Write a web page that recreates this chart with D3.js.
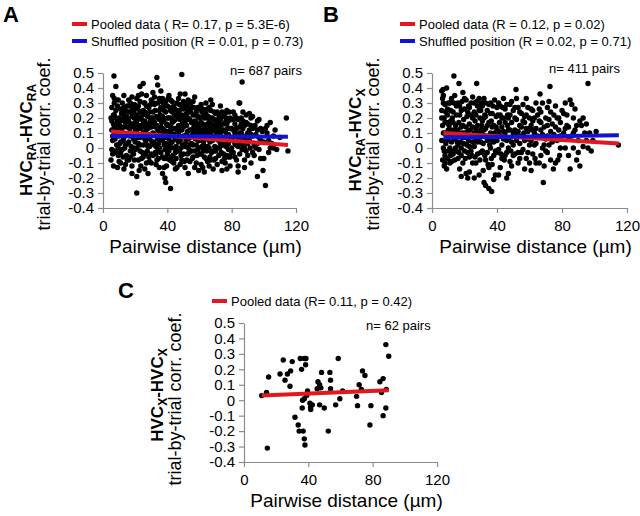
<!DOCTYPE html>
<html><head><meta charset="utf-8">
<script src="https://cdn.jsdelivr.net/npm/d3@7"></script>
<style>body{margin:0;background:#fff}svg text{font-family:"Liberation Sans",Arial,sans-serif}</style>
</head><body><svg id="chart" width="640" height="516"></svg>
<script>
// ---------- data ----------
const xTicks = [0, 40, 80, 120];
const yTicks = [0.5, 0.4, 0.3, 0.2, 0.1, 0, -0.1, -0.2, -0.3, -0.4];
const yTickLabels = ["0.5","0.4","0.3","0.2","0.1","0","-0.1","-0.2","-0.3","-0.4"];

const legendA = ["Pooled data ( R= 0.17, p = 5.3E-6)", "Shuffled position (R = 0.01, p = 0.73)"];
const legendB = ["Pooled data (R = 0.12, p = 0.02)", "Shuffled position (R = 0.02, p = 0.71)"];
const legendC = ["Pooled data (R= 0.11, p = 0.42)"];
const countLabels = ["n= 687 pairs", "n= 411 pairs", "n= 62 pairs"];

const pooledA = [[5, 0.11], [115, 0.02]];
const shuffledA = [[5, 0.08], [115, 0.075]];
const pooledB = [[7, 0.10], [115, 0.03]];
const shuffledB = [[7, 0.07], [115, 0.085]];
const pooledC = [[11, 0.03], [90, 0.065]];

const pointsA = [
[5,0.2],[6,0.35],[6.8,0.48],[7,0.3],[8,0.41],[5.5,0.12],[6,0.05],[7,-0.02],[5,-0.08],[6.5,-0.12],[8,0.25],[9,0.18],[7.5,0.1],[8.5,0.02],[9.5,-0.05],[9,-0.13],[5.5,0.27],[7,0.22],[8,0.15],[6,0.08],[9.5,0.32],[10,0.2],[10,0.08],[10,-0.09],[6.5,0.16],[8,-0.03],[9,0.28],[7,0.33],[5.5,-0.01],[9.8,0.12],
[11,0.26],[12,0.3],[13,0.22],[14,0.17],[11.5,0.12],[12.5,0.05],[13.5,0.0],[14.5,-0.05],[11,-0.1],[13,-0.14],[12,0.19],[14,0.09],[11,0.04],[15,0.28],[15,0.14],[12.5,-0.06],[14,-0.11],[13,0.35],[11.5,0.23],[15,0.03],[12,0.1],[14.5,0.21],[13,0.27],[11,-0.03],
[16,0.32],[17,0.24],[18,0.16],[16.5,0.08],[17.5,0.01],[19,-0.04],[16,-0.08],[18,-0.12],[19.5,0.2],[20,0.11],[17,0.3],[18.5,0.26],[16,0.18],[19,0.06],[20,-0.01],[17,-0.06],[18,0.34],[19.5,0.29],[16.5,0.13],[20,0.22],[18,-0.17],[21,-0.3],[21,-0.19],[17,0.1],[19,0.14],
[21,0.33],[22,0.28],[23,0.41],[22.5,0.2],[24,0.15],[21.5,0.07],[23,0.02],[24.5,-0.03],[22,-0.08],[23.5,-0.12],[25,0.43],[25,0.25],[21,0.18],[24,0.08],[22.5,-0.15],[25,-0.06],[21,0.12],[23,0.31],[24.5,0.22],[22,0.03],[25,0.1],[23,-0.02],[24,0.36],[21.5,0.26],
[26,0.3],[27,0.22],[28,0.13],[26.5,0.05],[27.5,-0.02],[29,-0.09],[26,-0.14],[28.5,0.27],[29.5,0.18],[30,0.08],[27,0.35],[26,0.18],[28,0.01],[30,-0.04],[29,0.24],[27,-0.1],[26.5,0.11],[30,0.32],[28,-0.17],[29,0.06],[27.5,0.16],[30,0.14],[26,0.24],
[31,0.37],[32,0.29],[33,0.21],[34,0.12],[31.5,0.04],[32.5,-0.03],[33.5,-0.08],[35,-0.13],[33.5,0.47],[34,0.42],[31,0.16],[35,0.25],[32,0.09],[34.5,0.03],[31,-0.05],[33,-0.11],[35,0.19],[32,0.34],[34,0.3],[31,0.24],[35,0.06],[32.5,0.14],[33,0.01],[34,-0.02],[35,0.33],
[36,0.38],[37,0.33],[38,0.25],[36.5,0.17],[37.5,0.09],[39,0.03],[36,-0.03],[38,-0.07],[39.5,-0.12],[37,-0.17],[38.5,-0.2],[39,-0.23],[38,0.12],[40,0.2],[40,0.07],[36,0.27],[39,0.31],[37,0.21],[40,-0.04],[36.5,0.1],[38,0.02],[39.5,0.16],[37,0.05],[40,0.28],[38,-0.13],
[41,0.35],[42,0.25],[43,0.17],[44,0.08],[41.5,0.0],[42.5,-0.06],[44,-0.1],[42,-0.27],[41,0.2],[43,0.31],[44.5,0.22],[45,0.13],[41,0.11],[43,0.04],[45,-0.03],[42,0.14],[44,0.28],[45,-0.14],[41,-0.02],[43.5,-0.05],[42,0.32],[44,0.18],[45,0.06],[41.5,0.27],
[46,0.3],[47,0.22],[48,0.14],[46.5,0.05],[47.5,-0.02],[49,-0.08],[46,-0.13],[49,0.49],[48,0.36],[50,0.26],[49.5,0.17],[50,0.08],[47,0.1],[48.5,0.0],[46,0.2],[50,-0.04],[47,0.33],[49,0.28],[48,-0.11],[46,0.12],[50,0.2],[47.5,0.25],[45.5,0.01],
[51,0.36],[52,0.28],[53,0.2],[54,0.12],[51.5,0.04],[52.5,-0.04],[54,-0.09],[51,-0.13],[53,-0.17],[55,0.27],[55,0.17],[52,0.09],[54,0.02],[51,0.22],[53,0.32],[55,-0.02],[52,0.15],[54.5,0.24],[51,0.07],[53,0.0],[55,0.08],[52.5,0.19],
[56,0.31],[57,0.34],[58,0.24],[56.5,0.14],[57.5,0.06],[59,-0.01],[56,-0.06],[58,-0.1],[59.5,-0.15],[60,0.2],[60,0.1],[57,0.18],[59,0.27],[56,0.22],[58,0.02],[60,-0.04],[57,-0.13],[58.5,0.12],[56,0.09],[59.5,0.05],
[61,0.29],[62,0.21],[63,0.13],[61.5,0.05],[62.5,-0.02],[64,-0.07],[61,-0.11],[63,-0.16],[65,0.26],[65,0.16],[64,0.3],[62,0.08],[61,0.17],[63.5,0.01],[65,0.06],[62,-0.13],[64.5,0.2],[61.5,0.24],[63,0.1],[65,-0.09],
[66,0.27],[67,0.2],[68,0.12],[66.5,0.04],[67.5,-0.03],[69,-0.08],[66,-0.12],[70,0.23],[70,0.15],[68,0.29],[69,0.06],[67,0.09],[66,0.17],[70,-0.02],[68.5,-0.14],[67,0.32],[69,0.19],[70,0.08],[66.5,-0.06],
[71,0.24],[72,0.17],[73,0.1],[74,0.02],[72,-0.05],[71,-0.11],[74,-0.15],[75,0.21],[73,0.28],[75,0.12],[71,0.06],[74,0.07],[72.5,0.0],[75,-0.04],[73,0.15],[71.5,0.19],[74,-0.09],
[76,0.23],[77,0.16],[78,0.09],[76.5,0.01],[78,-0.06],[79,-0.12],[80,0.19],[80,0.06],[77,0.25],[79,0.13],[76,-0.1],[78,0.03],[80,-0.03],[77,-0.14],[79,0.2],[76,0.11],
[81,0.24],[82,0.16],[83,0.09],[84,0.01],[82,-0.06],[84,-0.12],[85,0.3],[84.6,0.3],[86.5,0.44],[81,0.12],[83,0.2],[85,0.05],[82,0.03],[84,-0.16],[81,-0.03],[83,-0.08],[85,0.14],
[86,0.2],[87,0.13],[88,0.06],[86.5,-0.01],[88,-0.08],[89,0.17],[87,0.24],[90,0.1],[89,-0.02],[86,0.1],[90,0.03],[88,-0.13],[87,0.02],
[91,0.23],[92,0.15],[93,0.08],[91.5,0.0],[94,-0.05],[94.5,0.15],[93,0.21],[92,-0.1],[95,0.09],[91,0.12],[94,0.02],
[96,0.12],[97,0.19],[98,0.05],[96,-0.19],[99.5,-0.15],[99,0.11],[97,-0.01],[98,-0.07],[96,0.03],
[100,-0.07],[101,-0.25],[102,0.1],[104,0.17],[104,0.0],[106,0.08],[108,-0.01],[110,0.07],[114,0.2],[115,-0.02],[103,0.05],[107,0.12],[101,0.13],[105,0.03],
[5.5,0.18],[6.5,0.22],[7.5,0.06],[8.5,0.12],[9.5,0.0],[6,-0.04],[7,0.14],[8,0.2],[9,0.09],[10.5,0.15],[10.5,0.03],[11,0.18],[12,0.24],[12,-0.01],[13,0.07],[13,0.14],[14,0.02],[14,0.25],[15,0.2],[15,-0.08],
[16,0.24],[16,0.04],[16.5,0.28],[17,0.15],[17,-0.02],[18,0.08],[18,0.21],[19,0.0],[19,0.24],[19.5,-0.08],[20,0.17],[20,0.04],[20.5,0.28],[21,0.0],[21,0.22],[22,0.15],[22,0.09],[22,0.35],[23,0.07],[23,0.24],
[23.5,0.13],[24,0.19],[24,-0.07],[25,0.16],[25,0.02],[25.5,0.3],[26,0.06],[26,0.14],[26.5,-0.04],[27,0.28],[27,0.09],[27.5,0.02],[28,0.21],[28,0.09],[28.5,-0.06],[29,0.15],[29,0.01],[29.5,0.29],[30,0.2],[30,-0.1],
[30.5,0.04],[31,0.1],[31,0.2],[31.5,0.3],[32,0.02],[32,0.17],[32.5,0.25],[33,0.08],[33,-0.04],[33.5,0.15],[34,0.2],[34,0.06],[34.5,-0.07],[35,0.1],[35,0.0],[35.5,0.22],[36,0.14],[36,0.05],[36.5,0.31],[37,0.13],
[37,-0.06],[37.5,0.28],[38,0.19],[38,0.07],[38.5,-0.01],[39,0.11],[39,0.24],[39.5,-0.07],[40,0.15],[40,0.01],[40.5,0.33],[41,0.06],[41,0.15],[41.5,-0.08],[42,0.2],[42,0.03],[42.5,0.1],[43,0.24],[43,-0.09],[43.5,0.13],
[44,0.0],[44,0.13],[44.5,0.26],[45,0.19],[45,0.09],[45.5,-0.07],[46,0.25],[46,0.07],[46.5,-0.02],[47,0.15],[47,0.04],[47.5,0.29],[48,0.19],[48,0.05],[48.5,-0.05],[49,0.12],[49,0.22],[49.5,0.02],[50,0.14],[50,0.31],
[50.5,-0.09],[51,0.17],[51,0.01],[51.5,0.29],[52,0.23],[52,-0.08],[52.5,0.11],[53,0.06],[53,0.25],[53.5,-0.03],[54,0.19],[54,0.07],[54.5,0.3],[55,0.12],[55,0.03],[55.5,-0.07],[56,0.17],[56,0.02],[56.5,0.27],[57,0.11],
[57,-0.02],[57.5,0.22],[58,0.08],[58,0.17],[58.5,-0.05],[59,0.14],[59,0.21],[59.5,0.0],[60,0.15],[60,0.05],[60.5,0.26],[61,0.12],[61,-0.04],[61.5,0.01],[62,0.16],[62,0.26],[62.5,0.04],[63,0.2],[63,-0.06],[63.5,0.08],
[64,0.14],[64,0.23],[64.5,-0.02],[65,0.11],[65,0.01],[65.5,0.21],[66,0.08],[66,0.0],[66.5,0.13],[67,0.25],[67,-0.08],[67.5,0.16],[68,0.05],[68,0.2],[68.5,-0.02],[69,0.13],[69,0.24],[69.5,0.01],[70,0.11],[70,-0.07],
[70.5,0.18],[71,0.14],[71,0.0],[71.5,0.09],[72,0.22],[72,0.05],[72.5,0.12],[73,0.03],[73,0.19],[73.5,-0.03],[74,0.12],[74,0.24],[74.5,0.05],[75,0.16],[75,0.02],[75.5,-0.07],[76,0.17],[76,0.05],[76.5,0.2],[77,0.09],
[77,-0.05],[77.5,0.13],[78,0.18],[78,-0.01],[78.5,0.24],[79,0.06],[79,-0.06],[80,0.13],[80,0.0],[81,0.19],[81,0.05],[82,0.1],[82,0.22],[83,0.02],[83,0.13],[84,0.19],[84,0.06],[85,0.1],[85,-0.04],[86,0.16],
[86,0.03],[87,0.08],[87,0.18],[88,0.15],[88,0.0],[89,0.08],[89,0.22],[90,0.16],[90,-0.05],[91,0.05],[92,0.09],[92,0.2],[93,0.13],[93,-0.03],[95,0.0],[96,0.18],[97,0.07],[98,0.13],[100,0.04],[102,0.15],[103,-0.03],[106,0.0]
];

const pointsB = [
[6,0.38],[6.8,0.39],[9,0.40],[7,0.3],[8,0.29],[6,0.25],[7.5,0.2],[6.5,0.15],[8,0.1],[6,0.05],[7,0.0],[8,-0.05],[6.5,-0.08],[7.5,-0.12],[9,-0.14],[9.5,0.22],[10,0.12],[8.5,0.03],[9,0.17],[10,-0.02],[6,0.2],[7,0.35],[8,-0.1],[10,0.07],[9.5,0.26],
[11,0.3],[12,0.33],[13.5,0.48],[13,0.24],[11.5,0.18],[12,0.12],[14,0.06],[11,0.0],[13,-0.04],[12,-0.09],[14.5,0.15],[15,0.28],[15,-0.02],[11,0.08],[13,0.1],[14,-0.08],[12.5,0.2],[15,0.09],[11.5,-0.05],[14,0.35],
[16.6,0.43],[19,0.37],[16,0.3],[17,0.22],[18,0.14],[19,0.07],[16,0.02],[18,-0.05],[17,-0.14],[18,-0.19],[20,0.26],[20,0.1],[19,-0.1],[16.5,0.17],[18.5,0.31],[20,-0.02],[17,0.08],[19.5,0.19],[16,-0.07],[18,0.0],
[21,-0.17],[22,-0.2],[23,-0.16],[21,0.32],[22,0.24],[23,0.16],[24,0.08],[21.5,0.02],[23,-0.06],[25,-0.1],[24,0.3],[25,0.2],[22,0.11],[25,0.04],[21,0.14],[24,-0.02],[23,0.27],[22.5,0.05],[25,0.34],
[27.5,0.43],[26,0.3],[27,0.22],[28,0.15],[29,0.07],[26,0.01],[28,-0.04],[27,-0.1],[29,-0.18],[30,0.25],[30,0.12],[26.5,0.18],[29,0.33],[28,0.28],[30,-0.03],[26,-0.2],[27,0.05],[29.5,0.2],[26,0.1],
[32,-0.23],[33,-0.25],[35,-0.27],[31,0.28],[32,0.2],[33,0.13],[34,0.05],[31,-0.02],[33,-0.08],[35,-0.13],[34,0.25],[35,0.17],[31,0.09],[32,0.33],[35,0.06],[33,0.3],[31.5,-0.15],[34,-0.03],[32.5,0.22],[30.5,0.15],
[36.7,-0.29],[36,0.3],[37,0.23],[38,0.15],[39,0.08],[36,0.0],[38,-0.05],[37,-0.11],[39,-0.18],[40,0.27],[40,0.12],[38.5,0.32],[36.5,0.18],[40,-0.03],[37,0.05],[39.5,0.21],[38,-0.21],[36,0.1],
[41,0.3],[42,0.22],[43,0.14],[44,0.06],[41,-0.01],[43,-0.07],[42,-0.13],[45,0.26],[45,0.1],[44,0.33],[41.5,0.17],[43,0.02],[45,-0.05],[42,0.08],[44,0.2],[41,-0.18],[43.5,0.27],
[46,0.29],[47,0.2],[48,0.12],[49,0.04],[46,-0.03],[48,-0.09],[46,-0.2],[47,-0.17],[50,0.25],[50,0.1],[49,0.31],[47.5,0.07],[46.5,0.15],[50,-0.05],[48,0.22],[49,-0.12],[47,0.0],
[51.7,0.39],[51,0.27],[52,0.19],[53,0.11],[54,0.03],[51,-0.04],[53,-0.1],[55,0.23],[55,0.08],[52,0.33],[54,0.15],[52,0.05],[55,-0.03],[53,0.27],[51,0.12],[54,-0.07],
[56,0.29],[57,0.21],[58,0.13],[59,0.06],[56,-0.01],[57,-0.14],[58,-0.07],[60,0.2],[60,0.02],[59,0.27],[56.5,0.1],[58,0.33],[60,-0.1],[57,0.17],[59,-0.03],
[61,-0.15],[61,0.26],[62,0.18],[63,0.1],[64,0.03],[62,-0.04],[63.4,-0.07],[65,0.22],[64,0.3],[65,0.08],[62,0.12],[61,0.05],[64,-0.1],[63,0.2],
[66.5,0.36],[68.5,-0.23],[66,0.26],[67,0.17],[68,0.09],[69,0.02],[67,-0.05],[66,-0.1],[70,0.2],[70,0.06],[68,0.3],[69,-0.12],[67,0.12],[70,-0.02],
[72.6,0.41],[71,0.27],[72,0.19],[73,0.11],[74,0.04],[71,-0.03],[74.7,-0.14],[73,-0.08],[75,0.22],[75,0.09],[72,0.31],[74,0.16],[71,0.08],
[76,0.28],[77,0.2],[78,0.12],[78.5,-0.05],[77,0.05],[79,0.17],[80,0.25],[80,0.08],[76,-0.1],[79,0.0],[77.5,-0.08],
[81,0.23],[82,0.3],[83,0.15],[84,0.07],[85,0.32],[85,-0.14],[82,0.0],[84,-0.05],[83,0.22],[81,0.1],
[86,0.29],[87,0.2],[88,0.12],[89,-0.08],[91,0.18],[91,-0.12],[90,0.05],[88,0.26],[92,0.15],[87,0.0],[90,-0.03],[86,0.08],
[93,0.01],[94,0.1],[96,0.43],[97,0.1],[95,0.16],[99,0.05],[101,0.11],[114.7,0.02],[98,-0.02],[96,0.0],
[6.5,0.33],[7,0.1],[7.5,-0.02],[8,0.17],[8.5,0.24],[9,0.05],[9.5,-0.07],[10,0.3],[10.5,0.15],[11,-0.1],[11.5,0.25],[12,0.04],[12.5,-0.02],[13,0.17],[13.5,0.3],[14,0.12],[14.5,0.0],[15,0.22],[15.5,0.04],[16,0.12],
[16.5,-0.03],[17,0.28],[17.5,0.04],[18,0.25],[18.5,0.1],[19,0.15],[19.5,0.03],[20,0.33],[20.5,-0.07],[21,0.07],[21.5,0.21],[22,-0.03],[22.5,0.28],[23,0.01],[23.5,0.12],[24,0.22],[24.5,-0.05],[25,0.14],[25.5,0.08],[26,0.24],
[26.5,-0.06],[27,0.13],[27.5,0.31],[28,0.04],[28.5,0.1],[29,0.25],[29.5,-0.08],[30,0.04],[30.5,0.3],[31,0.18],[31.5,0.03],[32,0.12],[32.5,-0.05],[33,0.21],[33.5,0.08],[34,0.15],[34.5,-0.11],[35,0.29],[35.5,0.02],[36,0.23],
[36.5,-0.07],[37,0.14],[37.5,0.28],[38,0.04],[38.5,0.1],[39,-0.02],[39.5,0.14],[40,0.05],[40.5,0.22],[41,0.11],[42,0.28],[42.5,-0.04],[43,0.2],[44,0.11],[44.5,-0.08],[45,0.17],[46,0.05],[46.5,0.22],[47,0.12],[48,0.29],
[48.5,-0.02],[49,0.17],[50,0.02],[51,0.2],[52,0.1],[53,-0.03],[54,0.24],[55,0.14],[56,0.18],[57,0.05],[58,0.22],[59,0.11],[60,0.13],[61,0.15],[62,0.25],[63,0.02],[64,0.13],[66,0.18],[67,0.24],[68,0.0],
[69,0.14],[71,0.15],[72,0.02],[73,0.24],[76,0.14],[78,0.2],[79,0.08],[82,0.13],[84,0.14],[87,0.1],[89,0.15],[93,0.2],[95,0.05]
];

const pointsC = [
[11,0.03],[14,0.05],[14.5,-0.31],[15.3,0.15],[22.4,0.17],[24.4,0.26],[25.5,0.13],[27,0.17],[29,0.19],[28.6,0.09],
[30,0.25],[35,0.27],[37.5,0.27],[35.8,0.2],[38.3,0.23],[31.7,-0.11],[33.7,-0.16],[34.3,-0.2],[36.8,-0.2],[37.5,-0.25],
[37.9,-0.29],[36.2,-0.05],[36.4,0.0],[37.5,0.01],[39,0.03],[39.5,0.06],[41,-0.02],[41.4,-0.045],[41.5,-0.06],[42.5,-0.03],
[45.5,0.075],[46,0.12],[47,0.10],[48.2,0.18],[47.8,0.08],[47,-0.03],[49.9,-0.05],[52.4,-0.2],[53.4,0.18],[53.8,0.13],
[53.8,0.075],[57,-0.03],[58.6,0.27],[59.6,0.01],[61.3,0.06],[70,0.025],[70.6,-0.035],[71.6,0.10],[73,0.07],[73.7,0.19],
[75.2,0.16],[78.9,-0.035],[78.3,-0.16],[84.5,0.12],[86.5,0.14],[85.5,0.05],[86.5,-0.10],[88.2,-0.05],[88.2,0.36],[90,0.285],
[88.5,0.07],[38.5,0.27]
];

// ---------- drawing ----------
const svg = d3.select("#chart");
const AXIS = "#8c8c8c", RED = "#e3171e", BLUE = "#1212d6";
const FONT = '"Liberation Sans",Arial,sans-serif';

function panel(o) {
  const x = d3.scaleLinear().domain([0, 120]).range([o.x0, o.x1]);
  const y = d3.scaleLinear().domain([-0.4, 0.5]).range([o.y0, o.y1]);
  const g = svg.append("g");

  const ya = g.append("g").attr("transform", `translate(${o.x0},0)`)
    .call(d3.axisLeft(y).tickValues(yTicks).tickSize(5).tickSizeOuter(0).tickPadding(4)
      .tickFormat((d, i) => yTickLabels[i]));
  const xa = g.append("g").attr("transform", `translate(0,${o.y0})`)
    .call(d3.axisBottom(x).tickValues(xTicks).tickSize(5).tickSizeOuter(0).tickPadding(7));
  [ya, xa].forEach(a => {
    a.selectAll("path,line").attr("stroke", AXIS).attr("stroke-width", 1.2);
    a.selectAll("text").attr("fill", "#000").style("font-size", "15px").style("font-family", FONT);
  });

  g.append("g").selectAll("circle").data(o.points).join("circle")
    .attr("cx", d => x(d[0])).attr("cy", d => y(d[1])).attr("r", 2.7).attr("fill", "#000");

  o.lines.forEach(l => {
    g.append("line").attr("x1", x(l.d[0][0])).attr("y1", y(l.d[0][1]))
      .attr("x2", x(l.d[1][0])).attr("y2", y(l.d[1][1]))
      .attr("stroke", l.c).attr("stroke-width", 4);
  });

  o.legend.forEach((t, i) => {
    const ly = o.ly + i * 17;
    g.append("line").attr("x1", o.lx).attr("x2", o.lx + 15).attr("y1", ly).attr("y2", ly)
      .attr("stroke", o.lines[i].c).attr("stroke-width", 4);
    g.append("text").attr("x", o.lx + 19).attr("y", ly).attr("dy", "0.35em")
      .style("font-size", "13px").text(t);
  });

  g.append("text").attr("x", o.nx).attr("y", o.ny).attr("dy", "0.35em")
    .style("font-size", "13px").text(o.n);

  g.append("text").attr("x", o.letterX).attr("y", o.letterY)
    .style("font-size", "22px").style("font-weight", "bold").text(o.letter);

  g.append("text").attr("x", (o.x0 + o.x1) / 2 + 6).attr("y", o.y0 + 45)
    .attr("text-anchor", "middle").style("font-size", "19px").text("Pairwise distance (µm)");

  const t1 = g.append("text").attr("transform", `translate(${o.tx1},${o.tcy}) rotate(-90)`)
    .attr("text-anchor", "middle").attr("dy", "0.35em")
    .style("font-size", "17px").style("font-weight", "bold");
  t1.append("tspan").text("HVC");
  t1.append("tspan").attr("dy", 4).style("font-size", "12px").text(o.sub[0]);
  t1.append("tspan").attr("dy", -4).text("-HVC");
  t1.append("tspan").attr("dy", 4).style("font-size", "12px").text(o.sub[1]);
  g.append("text").attr("transform", `translate(${o.tx2},${o.tcy + 4}) rotate(-90)`)
    .attr("text-anchor", "middle").attr("dy", "0.35em")
    .style("font-size", "18px").text("trial-by-trial corr. coef.");
}

panel({x0: 103, x1: 296, y0: 208, y1: 73, points: pointsA,
  lines: [{d: pooledA, c: RED}, {d: shuffledA, c: BLUE}],
  legend: legendA, lx: 72, ly: 24, n: countLabels[0], nx: 230, ny: 70,
  letter: "A", letterX: 3, letterY: 22, tx1: 26, tx2: 44, tcy: 140, sub: ["RA", "RA"]});
panel({x0: 432, x1: 627, y0: 208, y1: 73, points: pointsB,
  lines: [{d: pooledB, c: RED}, {d: shuffledB, c: BLUE}],
  legend: legendB, lx: 400, ly: 24, n: countLabels[1], nx: 549, ny: 68,
  letter: "B", letterX: 323, letterY: 22, tx1: 355, tx2: 373, tcy: 140, sub: ["RA", "X"]});
panel({x0: 244, x1: 437, y0: 462, y1: 323, points: pointsC,
  lines: [{d: pooledC, c: RED}],
  legend: legendC, lx: 212, ly: 301, n: countLabels[2], nx: 366, ny: 325,
  letter: "C", letterX: 118, letterY: 298, tx1: 157, tx2: 175, tcy: 395, sub: ["X", "X"]});
</script></body></html>
